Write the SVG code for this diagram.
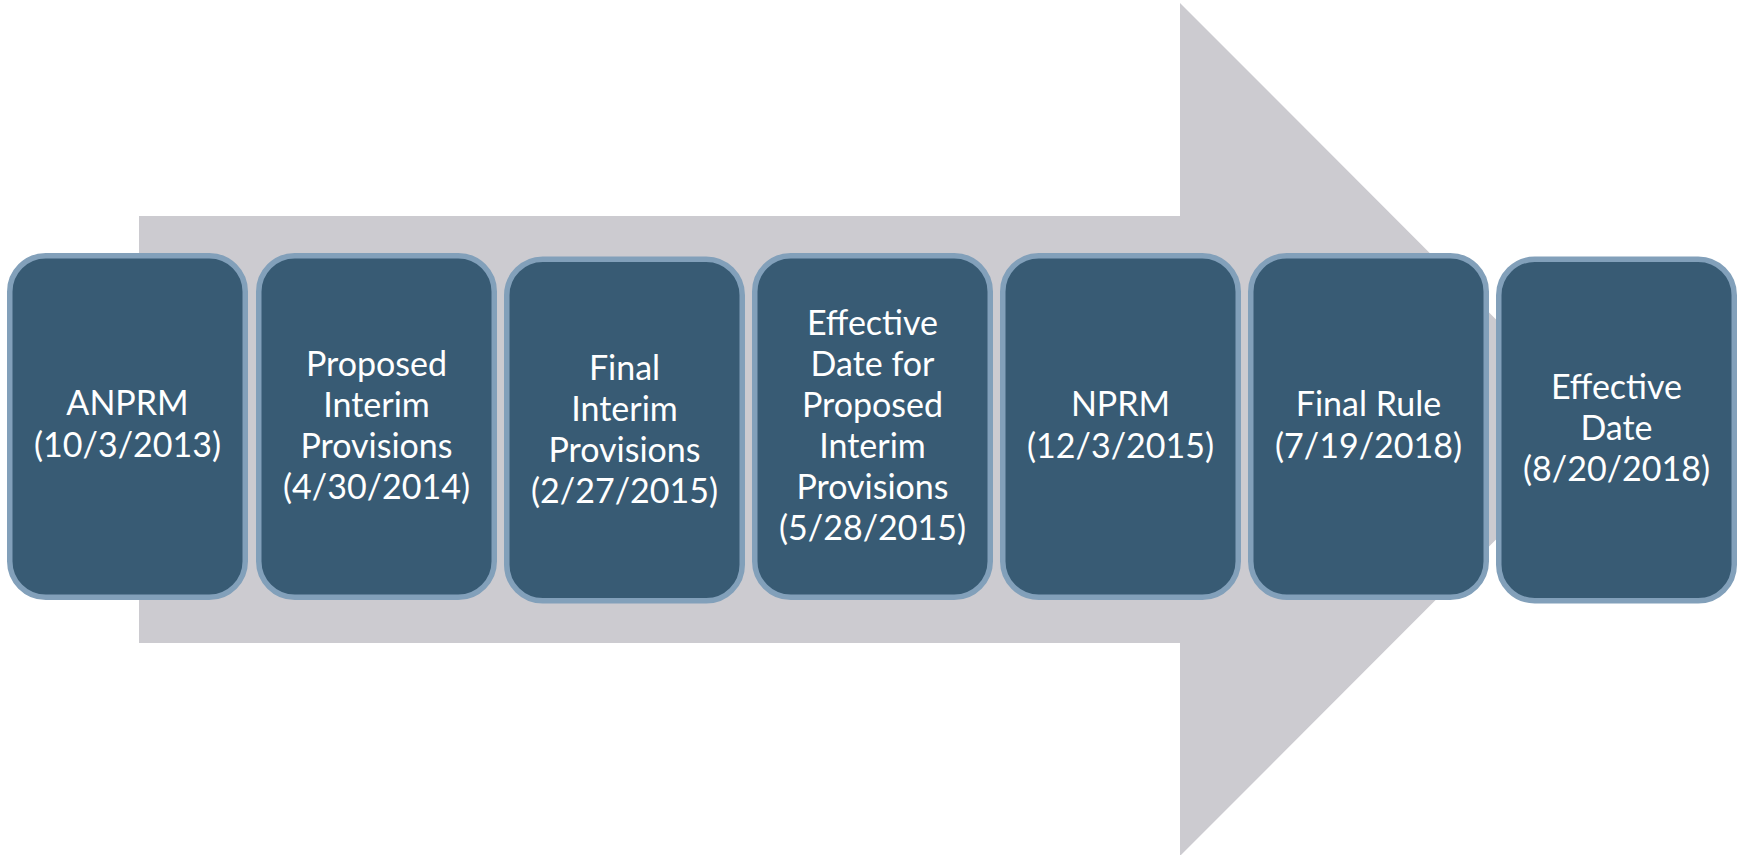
<svg xmlns="http://www.w3.org/2000/svg" width="1742" height="855" viewBox="0 0 1742 855">
<style>
.box{fill:#385b74;stroke:#82a0ba;stroke-width:5.5}
.lbl{font-family:Lato,"Open Sans","Liberation Sans",sans-serif;font-size:34px;fill:#ffffff;text-anchor:middle}
</style>
<rect x="0" y="0" width="1742" height="855" fill="#ffffff"/>
<g id="arrow">
<polygon points="139,216 1180,216 1180,3 1606,429.5 1180,856 1180,643 139,643" fill="#cccbd0"/>
</g>
<g id="connectors"></g>
<g id="n1">
<rect class="box" x="9.75" y="255.75" width="235.5" height="341.5" rx="36"/>
<text class="lbl"><tspan x="127.5" y="415">ANPRM</tspan><tspan x="127.5" y="457">(10/3/2013)</tspan></text>
</g>
<g id="n2">
<rect class="box" x="258.75" y="255.75" width="235.5" height="341.5" rx="36"/>
<text class="lbl"><tspan x="376.5" y="376">Proposed</tspan><tspan x="376.5" y="417">Interim</tspan><tspan x="376.5" y="458">Provisions</tspan><tspan x="376.5" y="499">(4/30/2014)</tspan></text>
</g>
<g id="n3">
<rect class="box" x="506.75" y="259.25" width="235.5" height="341.5" rx="36"/>
<text class="lbl"><tspan x="624.5" y="379.5">Final</tspan><tspan x="624.5" y="420.5">Interim</tspan><tspan x="624.5" y="461.5">Provisions</tspan><tspan x="624.5" y="502.5">(2/27/2015)</tspan></text>
</g>
<g id="n4">
<rect class="box" x="754.75" y="255.75" width="235.5" height="341.5" rx="36"/>
<text class="lbl"><tspan x="872.5" y="335">Effective</tspan><tspan x="872.5" y="376">Date for</tspan><tspan x="872.5" y="417">Proposed</tspan><tspan x="872.5" y="458">Interim</tspan><tspan x="872.5" y="499">Provisions</tspan><tspan x="872.5" y="540">(5/28/2015)</tspan></text>
</g>
<g id="n5">
<rect class="box" x="1002.75" y="255.75" width="235.5" height="341.5" rx="36"/>
<text class="lbl"><tspan x="1120.5" y="416">NPRM</tspan><tspan x="1120.5" y="458">(12/3/2015)</tspan></text>
</g>
<g id="n6">
<rect class="box" x="1250.75" y="255.75" width="235.5" height="341.5" rx="36"/>
<text class="lbl"><tspan x="1368.5" y="416">Final Rule</tspan><tspan x="1368.5" y="458">(7/19/2018)</tspan></text>
</g>
<g id="n7">
<rect class="box" x="1498.75" y="259.25" width="235.5" height="341.5" rx="36"/>
<text class="lbl"><tspan x="1616.5" y="399">Effective</tspan><tspan x="1616.5" y="440">Date</tspan><tspan x="1616.5" y="481">(8/20/2018)</tspan></text>
</g>
</svg>
